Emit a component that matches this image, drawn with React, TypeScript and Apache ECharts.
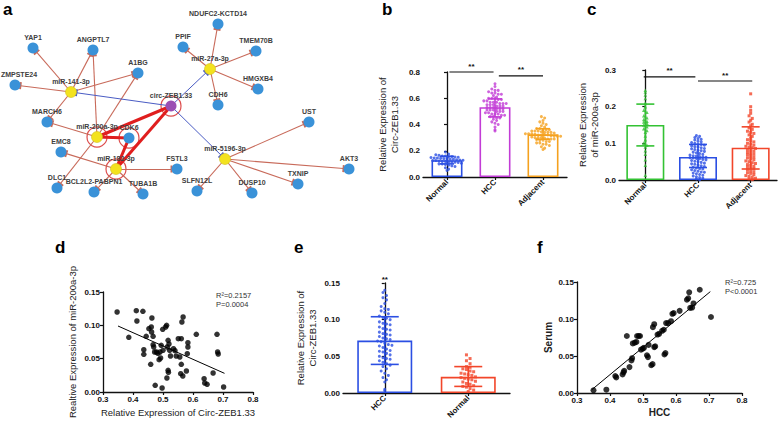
import React, { useEffect, useRef } from 'react';
import * as echarts from 'echarts';

// ---------------- Panel a: network ----------------
const netNames = ['circ-ZEB1.33', 'miR-141-3p', 'miR-200a-3p', 'miR-182-3p', 'miR-27a-3p', 'miR-5196-3p', 'CDK6',
  'YAP1', 'ANGPTL7', 'ZMPSTE24', 'A1BG', 'MARCH6', 'EMC8', 'DLC1', 'BCL2L2-PABPN1', 'TUBA1B', 'FSTL3',
  'NDUFC2-KCTD14', 'PPIF', 'TMEM70B', 'HMGXB4', 'CDH6', 'UST', 'AKT3', 'TXNIP', 'DUSP10', 'SLFN12L'];
const netKinds = ['circ', 'mir', 'mir', 'mir', 'mir', 'mir', 'gene',
  'gene', 'gene', 'gene', 'gene', 'gene', 'gene', 'gene', 'gene', 'gene', 'gene',
  'gene', 'gene', 'gene', 'gene', 'gene', 'gene', 'gene', 'gene', 'gene', 'gene'];
const netX = [171, 71, 97, 116, 210, 225, 129, 33, 93, 15, 138, 47, 61, 57, 94, 143, 177, 218, 183, 256, 258, 218, 309, 349, 298, 252, 197];
const netY = [106, 92, 137, 169, 69, 159, 138, 48, 50, 85, 73, 122, 152, 188, 192, 194, 169, 24, 47, 51, 89, 105, 122, 169, 184, 193, 191];
const netEdges = [
  ['miR-141-3p', 'YAP1', 'n'], ['miR-141-3p', 'ANGPTL7', 'n'], ['miR-141-3p', 'ZMPSTE24', 'n'], ['miR-141-3p', 'A1BG', 'n'], ['miR-141-3p', 'MARCH6', 'n'],
  ['miR-200a-3p', 'ANGPTL7', 'n'], ['miR-200a-3p', 'A1BG', 'n'], ['miR-200a-3p', 'MARCH6', 'n'], ['miR-200a-3p', 'DLC1', 'n'],
  ['miR-182-3p', 'EMC8', 'n'], ['miR-182-3p', 'BCL2L2-PABPN1', 'n'], ['miR-182-3p', 'TUBA1B', 'n'], ['miR-182-3p', 'FSTL3', 'n'],
  ['miR-27a-3p', 'NDUFC2-KCTD14', 'n'], ['miR-27a-3p', 'PPIF', 'n'], ['miR-27a-3p', 'TMEM70B', 'n'], ['miR-27a-3p', 'HMGXB4', 'n'], ['miR-27a-3p', 'CDH6', 'n'],
  ['miR-5196-3p', 'UST', 'n'], ['miR-5196-3p', 'AKT3', 'n'], ['miR-5196-3p', 'TXNIP', 'n'], ['miR-5196-3p', 'DUSP10', 'n'], ['miR-5196-3p', 'SLFN12L', 'n'],
  ['circ-ZEB1.33', 'miR-141-3p', 'b'], ['circ-ZEB1.33', 'miR-27a-3p', 'b'], ['circ-ZEB1.33', 'miR-5196-3p', 'b'],
  ['circ-ZEB1.33', 'miR-200a-3p', 't'], ['circ-ZEB1.33', 'miR-182-3p', 't'], ['miR-200a-3p', 'CDK6', 't'], ['miR-182-3p', 'CDK6', 't'],
];
const ringNodes = ['circ-ZEB1.33', 'miR-200a-3p', 'CDK6', 'miR-182-3p'];

// ---------------- Panel b ----------------
const bCats = ['Normal', 'HCC', 'Adjacent'];
const bNormal = [0.19, 0.175, 0.17, 0.165, 0.16, 0.16, 0.155, 0.155, 0.152, 0.15, 0.148, 0.145, 0.145, 0.142, 0.14, 0.138, 0.135, 0.135, 0.132, 0.13, 0.128, 0.125, 0.125, 0.122, 0.12, 0.118, 0.115, 0.115, 0.112, 0.11, 0.105, 0.1, 0.1, 0.095, 0.09, 0.085, 0.08, 0.07, 0.06, 0.05];
const bHCC = [0.71, 0.69, 0.67, 0.66, 0.66, 0.65, 0.64, 0.64, 0.63, 0.63, 0.62, 0.61, 0.6, 0.6, 0.6, 0.59, 0.59, 0.58, 0.58, 0.57, 0.57, 0.57, 0.56, 0.56, 0.56, 0.55, 0.55, 0.55, 0.54, 0.54, 0.54, 0.53, 0.53, 0.53, 0.52, 0.52, 0.52, 0.51, 0.51, 0.51, 0.5, 0.5, 0.5, 0.49, 0.49, 0.48, 0.48, 0.48, 0.47, 0.47, 0.46, 0.46, 0.45, 0.45, 0.44, 0.43, 0.42, 0.41, 0.4, 0.38, 0.36, 0.35];
const bAdj = [0.46, 0.45, 0.43, 0.42, 0.41, 0.4, 0.39, 0.38, 0.37, 0.37, 0.36, 0.36, 0.36, 0.35, 0.35, 0.35, 0.345, 0.34, 0.34, 0.34, 0.335, 0.33, 0.33, 0.33, 0.325, 0.32, 0.32, 0.32, 0.32, 0.315, 0.31, 0.31, 0.31, 0.305, 0.3, 0.3, 0.3, 0.295, 0.29, 0.29, 0.29, 0.285, 0.28, 0.28, 0.27, 0.27, 0.26, 0.26, 0.25, 0.25, 0.24, 0.23, 0.22, 0.21];
const bMeans = [0.128, 0.532, 0.325];
const bLo = [0.1, 0.458, 0.288];
const bHi = [0.158, 0.595, 0.368];
const bSig = [[0.05, 0.97, 0.8], [1.08, 2.0, 0.77]];

// ---------------- Panel c ----------------
const cCats = ['Normal', 'HCC', 'Adjacent'];
const cNormal = [0.245, 0.24, 0.232, 0.222, 0.21, 0.2, 0.19, 0.185, 0.175, 0.17, 0.165, 0.16, 0.158, 0.155, 0.15, 0.145, 0.14, 0.135, 0.13, 0.12, 0.11, 0.1, 0.095, 0.09, 0.08, 0.07, 0.055, 0.04, 0.013];
const cHCC = [0.121, 0.119, 0.116, 0.113, 0.111, 0.109, 0.106, 0.104, 0.102, 0.1, 0.098, 0.097, 0.095, 0.093, 0.091, 0.09, 0.088, 0.086, 0.085, 0.083, 0.081, 0.08, 0.078, 0.076, 0.074, 0.072, 0.07, 0.068, 0.066, 0.065, 0.064, 0.063, 0.062, 0.061, 0.06, 0.059, 0.058, 0.056, 0.055, 0.053, 0.051, 0.05, 0.048, 0.046, 0.044, 0.043, 0.041, 0.039, 0.037, 0.035, 0.033, 0.031, 0.03, 0.028, 0.026, 0.024, 0.022, 0.021, 0.019, 0.017, 0.015, 0.013, 0.011, 0.009, 0.007, 0.005, 0.003, 0.001];
const cAdj = [0.235, 0.2, 0.19, 0.182, 0.175, 0.168, 0.163, 0.158, 0.152, 0.148, 0.142, 0.138, 0.133, 0.13, 0.127, 0.123, 0.119, 0.114, 0.11, 0.107, 0.104, 0.1, 0.098, 0.095, 0.092, 0.09, 0.088, 0.086, 0.083, 0.08, 0.078, 0.075, 0.072, 0.07, 0.068, 0.065, 0.062, 0.06, 0.058, 0.055, 0.052, 0.05, 0.047, 0.045, 0.042, 0.04, 0.037, 0.035, 0.032, 0.03, 0.028, 0.025, 0.022, 0.02, 0.018, 0.015, 0.012, 0.01, 0.008, 0.005, 0.003, 0.001];
const cMeans = [0.15, 0.063, 0.088];
const cLo = [0.093, 0.034, 0.03];
const cHi = [0.207, 0.097, 0.145];
const cSig = [[-0.03, 0.95, 0.281], [1.0, 2.03, 0.27]];

// ---------------- Panel d ----------------
const dX = [0.347, 0.386, 0.411, 0.413, 0.433, 0.436, 0.436, 0.444, 0.453, 0.461, 0.463, 0.462, 0.467, 0.459, 0.467, 0.469, 0.472, 0.478, 0.483, 0.474, 0.487, 0.492, 0.49, 0.494, 0.499, 0.509, 0.512, 0.5, 0.497, 0.517, 0.514, 0.522, 0.525, 0.517, 0.518, 0.513, 0.544, 0.551, 0.561, 0.556, 0.561, 0.559, 0.566, 0.563, 0.567, 0.583, 0.583, 0.581, 0.578, 0.611, 0.637, 0.639, 0.647, 0.68, 0.682, 0.684, 0.667, 0.702, 0.535, 0.52, 0.54];
const dY = [0.12, 0.082, 0.122, 0.1065, 0.121, 0.0635, 0.0565, 0.0835, 0.095, 0.0975, 0.111, 0.09, 0.0835, 0.0415, 0.071, 0.0675, 0.06, 0.06, 0.058, 0.01, 0.0485, 0.051, 0.06, 0.07, 0.094, 0.0975, 0.1, 0.0625, 0.006, 0.0775, 0.0675, 0.0625, 0.054, 0.0325, 0.0295, 0.021, 0.054, 0.08, 0.08, 0.0525, 0.0415, 0.0275, 0.024, 0.105, 0.1125, 0.074, 0.0675, 0.0575, 0.0315, 0.0865, 0.02, 0.0135, 0.0115, 0.0865, 0.06, 0.057, 0.0285, 0.0075, 0.065, 0.072, 0.062];
const dFit = [[0.35, 0.099], [0.705, 0.028]];

// ---------------- Panel e ----------------
const eCats = ['HCC', 'Normal'];
const eHCC = [0.14, 0.137, 0.133, 0.13, 0.127, 0.122, 0.118, 0.115, 0.114, 0.112, 0.11, 0.108, 0.105, 0.103, 0.102, 0.1, 0.097, 0.095, 0.094, 0.093, 0.09, 0.088, 0.087, 0.086, 0.083, 0.081, 0.08, 0.079, 0.077, 0.075, 0.074, 0.073, 0.071, 0.07, 0.068, 0.066, 0.065, 0.064, 0.062, 0.06, 0.058, 0.057, 0.056, 0.054, 0.052, 0.05, 0.048, 0.047, 0.046, 0.044, 0.042, 0.04, 0.038, 0.036, 0.033, 0.03, 0.027, 0.024, 0.021, 0.018, 0.015, 0.005, 0.003];
const eNormal = [0.052, 0.047, 0.044, 0.04, 0.036, 0.035, 0.033, 0.032, 0.03, 0.029, 0.027, 0.026, 0.025, 0.024, 0.022, 0.021, 0.02, 0.019, 0.018, 0.016, 0.015, 0.013, 0.012, 0.01, 0.009, 0.008, 0.006, 0.004, 0.002];
const eMeans = [0.0715, 0.022];
const eLo = [0.039, 0.009];
const eHi = [0.104, 0.036];
const eSig = [[0, 0, 0.146]];

// ---------------- Panel f ----------------
const fX = [0.35, 0.389, 0.416, 0.419, 0.438, 0.441, 0.443, 0.451, 0.459, 0.465, 0.467, 0.469, 0.475, 0.48, 0.482, 0.487, 0.491, 0.494, 0.499, 0.503, 0.512, 0.515, 0.517, 0.525, 0.529, 0.53, 0.534, 0.534, 0.537, 0.544, 0.549, 0.558, 0.563, 0.565, 0.568, 0.57, 0.576, 0.585, 0.589, 0.593, 0.611, 0.633, 0.637, 0.64, 0.643, 0.649, 0.653, 0.672, 0.706];
const fY = [0.0036, 0.0045, 0.023, 0.021, 0.025, 0.028, 0.03, 0.077, 0.035, 0.044, 0.047, 0.067, 0.068, 0.069, 0.077, 0.077, 0.077, 0.0585, 0.06, 0.061, 0.051, 0.0485, 0.065, 0.0375, 0.039, 0.089, 0.093, 0.062, 0.063, 0.079, 0.08, 0.084, 0.0855, 0.052, 0.054, 0.0945, 0.0945, 0.097, 0.107, 0.108, 0.111, 0.126, 0.128, 0.136, 0.115, 0.1155, 0.121, 0.1395, 0.1027];
const fFit = [[0.345, 0.0045], [0.704, 0.137]];

// ---------------- styling ----------------
const FONT = '"Liberation Sans", Arial, Helvetica, sans-serif';
const bColors = ['#2b4fe3', '#c23cd6', '#f5a11e'];
const cColors = ['#33c233', '#2b4fe3', '#f2462a'];
const eColors = ['#2b4fe3', '#f2462a'];

function swarm(vals: number[], center: number, pxPerUnit: number, bandPx: number, rowPx: number, colPx: number) {
  const bins = new Map<number, number[]>();
  vals.forEach((v) => {
    const b = Math.round((v * pxPerUnit) / rowPx);
    if (!bins.has(b)) bins.set(b, []);
    bins.get(b)!.push(v);
  });
  const out: number[][] = [];
  bins.forEach((list) => {
    const n = list.length;
    list.forEach((v, k) => out.push([center + ((k - (n - 1) / 2) * colPx) / bandPx, v]));
  });
  return out;
}

const axisLine = { show: true, lineStyle: { color: '#111', width: 1.3 } };
const axisTick = { show: true, length: 3, lineStyle: { color: '#111', width: 1.2 } };
const tickLbl = (fmt: (v: number) => string) => ({ fontSize: 8, fontWeight: 'bold', color: '#111', margin: 3, fontFamily: FONT, formatter: fmt });
const nameStyle = { fontSize: 9.5, color: '#222', fontFamily: FONT, lineHeight: 12 };

function catAxis(grid: number, cats: string[]) {
  return {
    type: 'category', gridIndex: grid, data: cats, boundaryGap: true,
    axisLine, axisTick: { ...axisTick, alignWithLabel: true },
    axisLabel: { rotate: 45, interval: 0, fontSize: 8, fontWeight: 'bold', color: '#111', margin: 4, fontFamily: FONT },
    splitLine: { show: false },
  };
}
function hiddenX(grid: number, n: number) {
  return { type: 'value', gridIndex: grid, min: -0.5, max: n - 0.5, show: false, splitLine: { show: false } };
}
function valY(grid: number, max: number, interval: number, digits: number, name: string, gap: number, extra: any = {}) {
  return {
    type: 'value', gridIndex: grid, min: 0, max, interval,
    axisLine, axisTick, axisLabel: tickLbl((v: number) => v.toFixed(digits)), splitLine: { show: false },
    name, nameLocation: 'middle', nameGap: gap, nameTextStyle: { ...nameStyle, ...extra },
  };
}

function errSeries(xi: number, yi: number, lo: number[], hi: number[], colors: string[], capW: number) {
  return {
    type: 'custom', xAxisIndex: xi, yAxisIndex: yi, clip: false, z: 5,
    data: lo.map((l, i) => [i, l, hi[i]]),
    renderItem: (params: any, api: any) => {
      const x = api.value(0);
      const a = api.coord([x, api.value(1)]);
      const b = api.coord([x, api.value(2)]);
      const c = colors[params.dataIndex];
      const st = { stroke: c, lineWidth: 1.6 };
      const hw = capW / 2;
      return {
        type: 'group', children: [
          { type: 'line', shape: { x1: a[0], y1: a[1], x2: b[0], y2: b[1] }, style: st },
          { type: 'line', shape: { x1: a[0] - hw, y1: a[1], x2: a[0] + hw, y2: a[1] }, style: st },
          { type: 'line', shape: { x1: b[0] - hw, y1: b[1], x2: b[0] + hw, y2: b[1] }, style: st },
        ],
      };
    },
  };
}
function sigSeries(xi: number, yi: number, sig: number[][]) {
  return {
    type: 'custom', xAxisIndex: xi, yAxisIndex: yi, clip: false, z: 6,
    data: sig,
    renderItem: (params: any, api: any) => {
      const a = api.coord([api.value(0), api.value(2)]);
      const b = api.coord([api.value(1), api.value(2)]);
      const kids: any[] = [];
      if (b[0] - a[0] > 1) kids.push({ type: 'line', shape: { x1: a[0], y1: a[1], x2: b[0], y2: b[1] }, style: { stroke: '#111', lineWidth: 1.2 } });
      kids.push({ type: 'text', x: (a[0] + b[0]) / 2, y: a[1] - 2, style: { text: '**', fontSize: 8, fontWeight: 'bold', fill: '#111', align: 'center', verticalAlign: 'bottom', fontFamily: FONT } });
      return { type: 'group', children: kids };
    },
  };
}
function barSeries(xi: number, yi: number, means: number[], colors: string[], w: number) {
  return {
    type: 'bar', xAxisIndex: xi, yAxisIndex: yi, barWidth: w, z: 2,
    data: means.map((m, i) => ({ value: m, itemStyle: { color: 'rgba(255,255,255,0)', borderColor: colors[i], borderWidth: 1.6 } })),
  };
}
function dotSeries(xi: number, yi: number, pts: number[][], color: string, symbol: string, size: number) {
  return { type: 'scatter', xAxisIndex: xi, yAxisIndex: yi, data: pts, symbol, symbolSize: size, itemStyle: { color }, z: 3 };
}

export default function App() {
  const ref = useRef<HTMLDivElement>(null);
  useEffect(() => {
    document.body.style.margin = '0';
    const chart = echarts.init(ref.current!, null, { renderer: 'svg' });

    const tbar = 'path://M0,0L0.01,0M0,3.6L10,3.6L10,6.4L0,6.4ZM10,10L9.99,10';
    const idx = (n: string) => netNames.indexOf(n);
    const nodeColor = (k: string) => (k === 'circ' ? '#9b4fb3' : k === 'mir' ? '#f3e21e' : '#3a92d8');
    const nodes = netNames.map((n, i) => ({
      name: n, value: [netX[i], netY[i]], symbolSize: 11,
      itemStyle: { color: nodeColor(netKinds[i]), borderColor: netKinds[i] === 'mir' ? '#cfc020' : 'rgba(0,0,0,0)', borderWidth: 0.6 },
      label: n === 'ZMPSTE24' ? { offset: [4, 0] } : undefined,
    }));
    const links = netEdges.map(([s, t, k]) => ({
      source: s, target: t,
      symbol: k === 't' ? ['none', 'none'] : ['none', tbar],
      symbolSize: [0, 7],
      lineStyle: k === 'n' ? { color: '#c86a5a', width: 1.1 } : k === 'b' ? { color: '#4a5cc4', width: 1 } : { color: '#e01e1e', width: 3 },
    }));

    const option: any = {
      animation: false,
      textStyle: { fontFamily: FONT },
      grid: [
        { left: 0, top: 0, width: 400, height: 210 },
        { left: 423, top: 72, width: 144, height: 105 },
        { left: 619, top: 70, width: 158, height: 110 },
        { left: 103, top: 292, width: 150, height: 100 },
        { left: 343, top: 283, width: 167, height: 110 },
        { left: 577, top: 282, width: 165, height: 111 },
      ],
      xAxis: [
        { type: 'value', gridIndex: 0, min: 0, max: 400, show: false },
        catAxis(1, bCats), hiddenX(1, 3),
        catAxis(2, cCats), hiddenX(2, 3),
        {
          type: 'value', gridIndex: 3, min: 0.3, max: 0.8, interval: 0.1, axisLine, axisTick,
          axisLabel: tickLbl((v: number) => v.toFixed(1)), splitLine: { show: false },
          name: 'Relative Expression of Circ-ZEB1.33', nameLocation: 'middle', nameGap: 14, nameTextStyle: nameStyle,
        },
        catAxis(4, eCats), hiddenX(4, 2),
        {
          type: 'value', gridIndex: 5, min: 0.3, max: 0.8, interval: 0.1, axisLine, axisTick,
          axisLabel: tickLbl((v: number) => v.toFixed(1)), splitLine: { show: false },
          name: 'HCC', nameLocation: 'middle', nameGap: 13, nameTextStyle: { ...nameStyle, fontWeight: 'bold', fontSize: 10 },
        },
      ],
      yAxis: [
        { type: 'value', gridIndex: 0, min: 0, max: 210, inverse: true, show: false },
        valY(1, 0.8, 0.2, 1, 'Relative Expression of\nCirc-ZEB1.33', 23),
        valY(2, 0.3, 0.1, 1, 'Relative Expression\nof miR-200a-3p', 18),
        valY(3, 0.15, 0.05, 2, 'Realtive Expression of miR-200a-3p', 25),
        valY(4, 0.15, 0.05, 2, 'Relative Expression of\nCirc-ZEB1.33', 25),
        valY(5, 0.15, 0.05, 2, 'Serum', 21, { fontWeight: 'bold', fontSize: 10 }),
      ],
      series: [
        // a
        {
          type: 'graph', coordinateSystem: 'cartesian2d', xAxisIndex: 0, yAxisIndex: 0, layout: 'none', silent: true,
          data: nodes, links,
          label: { show: true, position: 'top', distance: 1.5, fontSize: 7, fontWeight: 'bold', color: '#404040', fontFamily: FONT },
          lineStyle: { opacity: 1, curveness: 0 },
          emphasis: { disabled: true },
          z: 3,
        },
        {
          type: 'scatter', xAxisIndex: 0, yAxisIndex: 0, silent: true, z: 2,
          data: ringNodes.map((n) => [netX[idx(n)], netY[idx(n)]]),
          symbolSize: 20, itemStyle: { color: 'rgba(255,255,255,0)', borderColor: '#d42020', borderWidth: 1.2 },
        },
        // b
        barSeries(1, 1, bMeans, bColors, 31),
        dotSeries(2, 1, swarm(bNormal, 0, 105 / 0.8, 48, 3, 3.2), bColors[0], 'circle', 3),
        dotSeries(2, 1, swarm(bHCC, 1, 105 / 0.8, 48, 3, 3.2), bColors[1], 'circle', 3),
        dotSeries(2, 1, swarm(bAdj, 2, 105 / 0.8, 48, 3, 3.2), bColors[2], 'circle', 3),
        errSeries(2, 1, bLo, bHi, bColors, 14),
        sigSeries(2, 1, bSig),
        // c
        barSeries(3, 2, cMeans, cColors, 38),
        dotSeries(4, 2, swarm(cNormal, 0, 110 / 0.3, 158 / 3, 3, 3.2), cColors[0], 'triangle', 3.5),
        dotSeries(4, 2, swarm(cHCC, 1, 110 / 0.3, 158 / 3, 3, 3.2), cColors[1], 'circle', 3),
        dotSeries(4, 2, swarm(cAdj, 2, 110 / 0.3, 158 / 3, 3, 3.2), cColors[2], 'rect', 3),
        errSeries(4, 2, cLo, cHi, cColors, 18),
        sigSeries(4, 2, cSig),
        // d
        { type: 'scatter', xAxisIndex: 5, yAxisIndex: 3, data: dX.map((x, i) => [x, dY[i]]), symbolSize: 5.5, itemStyle: { color: '#000' } },
        { type: 'line', xAxisIndex: 5, yAxisIndex: 3, data: dFit, showSymbol: false, lineStyle: { color: '#000', width: 1 } },
        // e
        barSeries(6, 4, eMeans, eColors, 55),
        dotSeries(7, 4, swarm(eHCC, 0, 110 / 0.15, 167 / 2, 5, 3.6), eColors[0], 'circle', 3),
        dotSeries(7, 4, swarm(eNormal, 1, 110 / 0.15, 167 / 2, 4.5, 3.6), eColors[1], 'rect', 3),
        errSeries(7, 4, eLo, eHi, eColors, 28),
        sigSeries(7, 4, eSig),
        // f
        { type: 'scatter', xAxisIndex: 8, yAxisIndex: 5, data: fX.map((x, i) => [x, fY[i]]), symbolSize: 6, itemStyle: { color: '#000' } },
        { type: 'line', xAxisIndex: 8, yAxisIndex: 5, data: fFit, showSymbol: false, lineStyle: { color: '#000', width: 1 } },
      ],
      graphic: [
        { type: 'text', left: 3, top: 1, style: { text: 'a', fontSize: 17, fontWeight: 'bold', fill: '#000', fontFamily: FONT } },
        { type: 'text', left: 382, top: 1, style: { text: 'b', fontSize: 17, fontWeight: 'bold', fill: '#000', fontFamily: FONT } },
        { type: 'text', left: 587, top: 1, style: { text: 'c', fontSize: 17, fontWeight: 'bold', fill: '#000', fontFamily: FONT } },
        { type: 'text', left: 55, top: 239, style: { text: 'd', fontSize: 17, fontWeight: 'bold', fill: '#000', fontFamily: FONT } },
        { type: 'text', left: 294, top: 239, style: { text: 'e', fontSize: 17, fontWeight: 'bold', fill: '#000', fontFamily: FONT } },
        { type: 'text', left: 537, top: 239, style: { text: 'f', fontSize: 17, fontWeight: 'bold', fill: '#000', fontFamily: FONT } },
        { type: 'text', left: 216, top: 291, style: { text: 'R²=0.2157\nP=0.0004', fontSize: 7.5, lineHeight: 9, fill: '#333', fontFamily: FONT } },
        { type: 'text', left: 725, top: 278, style: { text: 'R²=0.725\nP<0.0001', fontSize: 7.5, lineHeight: 9, fill: '#333', fontFamily: FONT } },
      ],
    };
    chart.setOption(option);
    return () => chart.dispose();
  }, []);
  return <div ref={ref} style={{ width: 784, height: 426 }} />;
}
